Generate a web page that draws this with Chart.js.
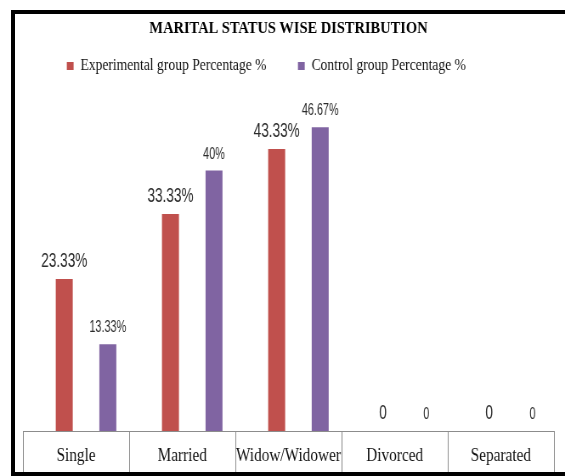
<!DOCTYPE html>
<html lang="en">
<head>
<meta charset="UTF-8">
<title>Marital Status Wise Distribution</title>
<script src="https://cdn.jsdelivr.net/npm/chart.js"></script>
<style>
  html, body { margin: 0; padding: 0; background: #fff; overflow: hidden; }
  #frame { position: absolute; left: 11px; top: 10px; width: 600px; height: 466px; border: 4px solid #000; box-sizing: border-box; pointer-events: none; }
  #chart { position: absolute; left: 0; top: 0; }
</style>
</head>
<body>
<!-- drawn 665 wide and squeezed to 565 so the text comes out condensed like the original -->
<canvas id="chart" width="665" height="476" style="width:565px;height:476px"></canvas>
<div id="frame"></div>
<script>
const categories = ['Single', 'Married', 'Widow/Widower', 'Divorced', 'Separated'];
const experimental = [23.33, 33.33, 43.33, 0, 0];
const control = [13.33, 40, 46.67, 0, 0];
const seriesNames = ['Experimental group Percentage %', 'Control group Percentage %'];

const serif = "'Liberation Serif', 'Times New Roman', serif";
const sans = "'Liberation Sans', Arial, sans-serif";

// value labels above each bar (squeezed a little more, the original uses a narrow face)
const barLabels = {
  id: 'barLabels',
  afterDatasetsDraw(chart) {
    const ctx = chart.ctx;
    chart.data.datasets.forEach((ds, di) => {
      const meta = chart.getDatasetMeta(di);
      ctx.save();
      ctx.font = (di === 0 ? '20px ' : '16px ') + sans;
      ctx.fillStyle = '#2b2b2b';
      ctx.textAlign = 'center';
      ctx.textBaseline = 'alphabetic';
      meta.data.forEach((bar, i) => {
        const v = ds.data[i].y;
        ctx.save();
        ctx.translate(bar.x, bar.y - 12);
        ctx.scale(0.8, 1);
        ctx.fillText(v === 0 ? '0' : v + '%', 0, 0);
        ctx.restore();
      });
      ctx.restore();
    });
  }
};

// legend sits a bit left of the title in the original
const legendShift = {
  id: 'legendShift',
  afterLayout(chart) {
    chart.legend.left -= 26;
    chart.legend.right -= 26;
  }
};

new Chart(document.getElementById('chart'), {
  type: 'bar',
  data: {
    datasets: [{
      label: seriesNames[0],
      data: experimental.map((v, i) => ({ x: i, y: v })),
      backgroundColor: '#C0504D',
      borderWidth: 0
    }, {
      label: seriesNames[1],
      data: control.map((v, i) => ({ x: i, y: v })),
      backgroundColor: '#8064A2',
      borderWidth: 0
    }]
  },
  options: {
    responsive: false,
    animation: false,
    layout: { padding: { left: 27, right: 13, top: 12, bottom: 0 } },
    datasets: { bar: { categoryPercentage: 0.82, barPercentage: 0.39 } },
    plugins: {
      title: {
        display: true,
        text: 'MARITAL STATUS WISE DISTRIBUTION',
        color: '#000',
        font: { family: serif, size: 17, weight: 'bold' },
        padding: { top: 6, bottom: -17.4 }
      },
      legend: {
        labels: {
          color: '#111',
          font: { family: serif, size: 16 },
          boxWidth: 8,
          boxHeight: 8,
          padding: 37
        }
      },
      tooltip: { enabled: false }
    },
    scales: {
      x: {
        type: 'linear',
        display: false,
        offset: false,
        grid: { offset: false },
        min: -0.594,
        max: 4.406,
        ticks: { stepSize: 1, includeBounds: false }
      },
      xt: {
        type: 'category',
        labels: categories,
        position: 'bottom',
        offset: true,
        grid: { offset: true, drawOnChartArea: false, drawTicks: true, tickLength: 45, color: '#8c8c8c' },
        border: { display: true, color: '#8c8c8c' },
        ticks: { padding: -31, color: '#111', font: { family: serif, size: 18 }, maxRotation: 0, autoSkip: false },
        afterFit: s => { s.height = 45; }
      },
      y: {
        display: false,
        min: 0,
        max: 53.30
      }
    }
  },
  plugins: [barLabels, legendShift]
});
</script>
</body>
</html>
